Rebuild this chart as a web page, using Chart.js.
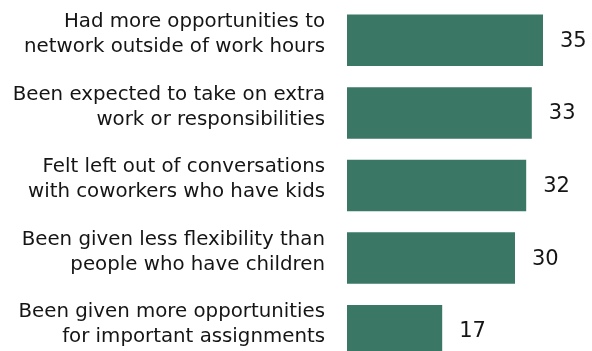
<!DOCTYPE html>
<html>
<head>
<meta charset="utf-8">
<script src="https://cdn.jsdelivr.net/npm/chart.js@4/dist/chart.umd.min.js"></script>
<style>
  html, body { margin: 0; padding: 0; background: #fff; }
  #wrap { width: 592px; height: 351px; overflow: hidden; }
  #grafico { width: 592px; height: 367px; display: block; }
</style>
</head>
<body>
<div id="wrap"><canvas id="grafico" width="592" height="367"></canvas></div>
<script>
// categorias (duas linhas cada) e percentuais
let categorias = [
  ['Had more opportunities to', 'network outside of work hours'],
  ['Been expected to take on extra', 'work or responsibilities'],
  ['Felt left out of conversations', 'with coworkers who have kids'],
  ['Been given less flexibility than', 'people who have children'],
  ['Been given more opportunities', 'for important assignments']
];
let valores = [35, 33, 32, 30, 17];

let corBarra = '#3a7765';
let corTexto = '#151515';
let fonte = '"DejaVu Sans"';

// nomes das categorias à esquerda, alinhados à direita, duas linhas
const rotulosCategoria = {
  id: 'rotulosCategoria',
  afterDraw(chart) {
    const ctx = chart.ctx;
    const eixo = chart.scales.y;
    ctx.save();
    ctx.font = '19.8px ' + fonte;
    ctx.fillStyle = corTexto;
    ctx.textAlign = 'right';
    ctx.textBaseline = 'middle';
    categorias.forEach(function (linhas, i) {
      const yc = eixo.getPixelForTick(i) - 6;
      linhas.forEach(function (txt, j) {
        ctx.fillText(txt, eixo.right - 22, yc + (j - (linhas.length - 1) / 2) * 25);
      });
    });
    ctx.restore();
  }
};

// escreve o valor logo depois do fim de cada barra
const rotulosValor = {
  id: 'rotulosValor',
  afterDatasetsDraw(chart) {
    const ctx = chart.ctx;
    const meta = chart.getDatasetMeta(0);
    ctx.save();
    ctx.font = '21px ' + fonte;
    ctx.fillStyle = corTexto;
    ctx.textAlign = 'left';
    ctx.textBaseline = 'middle';
    meta.data.forEach(function (barra, i) {
      ctx.fillText(String(valores[i]), barra.x + 17, barra.y + 1);
    });
    ctx.restore();
  }
};

let dash = document.getElementById('grafico');
let inserigrafico = new Chart(dash, {
  type: 'bar',
  data: {
    labels: categorias,
    datasets: [{
      data: valores,
      backgroundColor: corBarra,
      borderWidth: 0,
      barPercentage: 0.71,
      categoryPercentage: 1
    }]
  },
  options: {
    indexAxis: 'y',
    responsive: false,
    maintainAspectRatio: false,
    animation: false,
    devicePixelRatio: 1,
    layout: { padding: { top: 4, right: 21, bottom: 0, left: 0 } },
    plugins: {
      legend: { display: false },
      tooltip: { enabled: false }
    },
    scales: {
      x: {
        display: false,
        min: 0,
        max: 40
      },
      y: {
        grid: { display: false, drawTicks: false },
        border: { display: false },
        ticks: { display: false },
        afterFit: function (scale) {
          scale.width = 347;
        }
      }
    }
  },
  plugins: [rotulosValor, rotulosCategoria]
});
</script>
</body>
</html>
